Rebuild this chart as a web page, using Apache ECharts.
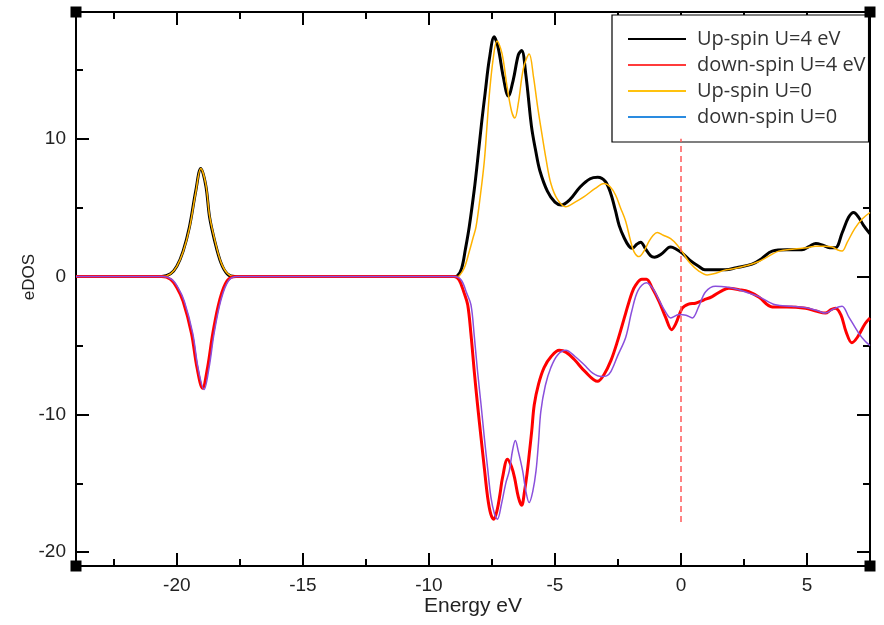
<!DOCTYPE html>
<html>
<head>
<meta charset="utf-8">
<script src="https://cdn.jsdelivr.net/npm/echarts@6/dist/echarts.min.js"></script>
<style>
html,body{margin:0;padding:0;background:#fff;}
#chart{width:884px;height:625px;}
</style>
</head>
<body>
<div id="chart"></div>
<script>
// ---- data (energy eV, eDOS) ----
const seriesNames = ['Up-spin U=4 eV', 'down-spin U=4 eV', 'Up-spin U=0', 'down-spin U=0'];

const upSpinU4 = [[-24,0],[-20.6,0],[-20.25,0.2],[-20.0,0.75],[-19.75,1.85],[-19.5,3.6],[-19.25,6.2],[-19.05,7.85],[-18.85,6.6],[-18.7,4.3],[-18.5,2.6],[-18.25,1.0],[-18.0,0.2],[-17.7,0],[-9.0,0],[-8.87,0.05],[-8.7,0.6],[-8.55,2.0],[-8.4,3.6],[-8.2,6.3],[-8.07,8.4],[-7.9,11.3],[-7.77,13.3],[-7.6,15.8],[-7.41,17.4],[-7.25,16.6],[-7.05,14.5],[-6.85,13.1],[-6.65,14.3],[-6.45,16.1],[-6.32,16.4],[-6.15,14.6],[-5.93,10.9],[-5.75,9.0],[-5.6,7.7],[-5.3,6.2],[-5.0,5.4],[-4.75,5.2],[-4.4,5.6],[-4.0,6.5],[-3.6,7.1],[-3.3,7.2],[-3.0,6.9],[-2.78,6.0],[-2.6,4.8],[-2.45,3.7],[-2.25,2.8],[-2.06,2.2],[-1.93,2.05],[-1.75,2.35],[-1.6,2.5],[-1.4,2.0],[-1.2,1.5],[-1.05,1.4],[-0.8,1.6],[-0.5,2.1],[-0.4,2.15],[-0.2,2.0],[0.05,1.7],[0.35,1.2],[0.7,0.75],[0.95,0.5],[1.3,0.5],[1.77,0.5],[2.2,0.65],[2.82,0.9],[3.2,1.3],[3.62,1.85],[4.2,1.95],[4.8,1.95],[5.1,2.2],[5.35,2.4],[5.6,2.3],[5.9,2.1],[6.13,2.1],[6.4,3.2],[6.65,4.3],[6.85,4.65],[7.05,4.3],[7.25,3.7],[7.5,3.1]];

const upSpinU0 = [[-24,0],[-20.6,0],[-20.25,0.2],[-20.0,0.75],[-19.75,1.8],[-19.5,3.5],[-19.25,6.1],[-19.05,7.85],[-18.85,6.7],[-18.7,4.4],[-18.5,2.7],[-18.25,1.05],[-18.0,0.25],[-17.7,0],[-8.9,0],[-8.8,0.05],[-8.6,0.6],[-8.4,1.8],[-8.25,2.8],[-8.13,3.6],[-7.95,6.0],[-7.8,8.4],[-7.7,10.8],[-7.6,13.25],[-7.45,15.8],[-7.3,17.1],[-7.1,16.2],[-6.9,13.8],[-6.72,12.0],[-6.59,11.5],[-6.45,12.6],[-6.25,15.1],[-6.02,16.15],[-5.85,14.5],[-5.7,12.5],[-5.56,10.85],[-5.35,8.5],[-5.16,6.75],[-4.9,5.6],[-4.57,5.06],[-4.2,5.4],[-3.84,5.8],[-3.4,6.4],[-3.05,6.75],[-2.8,6.5],[-2.59,5.9],[-2.4,5.0],[-2.19,4.0],[-2.0,2.6],[-1.86,1.8],[-1.66,1.45],[-1.45,1.9],[-1.27,2.55],[-1.1,3.0],[-0.94,3.2],[-0.7,3.0],[-0.41,2.75],[-0.15,2.3],[0.05,1.8],[0.35,1.0],[0.71,0.4],[1.04,0.12],[1.3,0.2],[1.7,0.45],[2.17,0.6],[2.6,0.8],[3.09,1.1],[3.5,1.5],[3.88,1.85],[4.5,2.0],[5.0,2.1],[5.33,2.2],[5.7,2.2],[6.0,2.15],[6.2,1.95],[6.39,1.85],[6.6,2.5],[6.9,3.5],[7.2,4.2],[7.5,4.65]];

const downSpinU4 = [[-24,0],[-20.6,0],[-20.25,-0.2],[-20.0,-0.8],[-19.75,-1.8],[-19.42,-4.1],[-19.2,-6.6],[-18.98,-8.1],[-18.78,-6.6],[-18.57,-4.1],[-18.3,-1.7],[-18.0,-0.3],[-17.65,0],[-9.0,0],[-8.8,-0.25],[-8.6,-1.2],[-8.46,-2.05],[-8.33,-4.2],[-8.2,-6.87],[-8.07,-9.3],[-7.93,-11.7],[-7.8,-13.9],[-7.67,-16.0],[-7.55,-17.2],[-7.43,-17.6],[-7.3,-17.0],[-7.18,-15.8],[-7.08,-14.6],[-6.88,-13.25],[-6.72,-13.8],[-6.6,-14.6],[-6.45,-16.0],[-6.32,-16.6],[-6.2,-15.5],[-6.1,-14.2],[-6.02,-12.9],[-5.92,-11.2],[-5.82,-9.3],[-5.65,-7.8],[-5.43,-6.6],[-5.15,-5.8],[-4.83,-5.35],[-4.55,-5.5],[-4.24,-6.0],[-3.8,-6.9],[-3.31,-7.6],[-3.05,-7.1],[-2.78,-6.1],[-2.52,-4.7],[-2.2,-2.7],[-1.95,-1.2],[-1.79,-0.6],[-1.55,-0.2],[-1.37,-0.2],[-1.15,-0.8],[-0.87,-1.8],[-0.6,-3.0],[-0.37,-3.85],[-0.2,-3.4],[0.05,-2.3],[0.3,-2.0],[0.58,-1.93],[0.9,-1.7],[1.24,-1.45],[1.6,-1.05],[1.9,-0.85],[2.3,-0.95],[2.69,-1.1],[3.1,-1.5],[3.62,-2.2],[4.2,-2.2],[4.94,-2.3],[5.35,-2.5],[5.73,-2.65],[5.95,-2.4],[6.13,-2.3],[6.35,-2.8],[6.55,-4.0],[6.78,-4.8],[7.0,-4.4],[7.31,-3.4],[7.5,-3.0]];

const downSpinU0 = [[-24,0],[-20.55,0],[-20.2,-0.2],[-19.95,-0.8],[-19.7,-1.8],[-19.37,-4.1],[-19.15,-6.7],[-18.92,-8.2],[-18.72,-6.6],[-18.52,-4.1],[-18.25,-1.7],[-17.95,-0.3],[-17.6,0],[-9.0,0],[-8.72,-0.25],[-8.5,-1.2],[-8.33,-2.05],[-8.2,-4.3],[-8.07,-6.87],[-7.93,-9.3],[-7.8,-11.7],[-7.67,-13.9],[-7.54,-16.0],[-7.4,-17.2],[-7.28,-17.6],[-7.12,-16.5],[-6.95,-15.0],[-6.81,-14.1],[-6.68,-12.6],[-6.57,-11.9],[-6.45,-12.7],[-6.28,-14.1],[-6.15,-15.6],[-6.02,-16.4],[-5.88,-15.6],[-5.75,-14.1],[-5.65,-12.0],[-5.56,-9.8],[-5.38,-7.9],[-5.16,-6.6],[-4.9,-5.7],[-4.57,-5.35],[-4.2,-5.8],[-3.84,-6.4],[-3.5,-7.0],[-3.15,-7.25],[-2.95,-7.2],[-2.78,-6.9],[-2.5,-5.7],[-2.19,-4.4],[-1.95,-2.5],[-1.7,-1.0],[-1.37,-0.45],[-1.1,-0.9],[-0.87,-1.7],[-0.6,-2.6],[-0.41,-3.0],[-0.08,-2.75],[0.2,-2.8],[0.45,-3.0],[0.7,-2.2],[0.98,-1.1],[1.37,-0.7],[1.8,-0.75],[2.3,-0.95],[2.7,-1.2],[3.09,-1.45],[3.75,-2.05],[4.4,-2.15],[5.07,-2.3],[5.45,-2.5],[5.73,-2.65],[6.05,-2.35],[6.39,-2.15],[6.65,-2.9],[7.05,-4.1],[7.31,-4.7],[7.5,-5.0]];

const fermiLine = [[0,-17.8],[0,10]];

const xRange = [-24, 7.5];
const yRange = [-21, 19.2];
const xMajorTicks = [-20,-15,-10,-5,0,5];
const xMinorTicks = [-22.5,-17.5,-12.5,-7.5,-2.5,2.5,7.5];
const yMajorTicks = [-20,-10,0,10];
const yMinorTicks = [-15,-5,5,15];

// ---- styling ----
const GRID = {left:76, right:14, top:12, bottom:59};
const W = 884, H = 625;
const SANS = 'Liberation Sans, Arial, sans-serif';
const tickFont = {fontFamily:SANS, fontSize:19, color:'#222'};

function xAxisDef(pos, ticks, len, showLine, showLabel, name){
  return {
    type:'value', position:pos, min:xRange[0], max:xRange[1],
    name: name || '', nameLocation:'middle', nameGap:30, nameMoveOverlap:false,
    nameTextStyle:{fontFamily:SANS, fontSize:21, color:'#222'},
    axisLine:{show:showLine, onZero:false, lineStyle:{color:'#000', width:2}},
    axisTick:{show:true, inside:true, length:len, customValues:ticks, lineStyle:{color:'#000', width:2}},
    axisLabel:{show:showLabel, customValues:ticks, margin:10, ...tickFont},
    splitLine:{show:false}
  };
}
function yAxisDef(pos, ticks, len, showLine, showLabel, name){
  return {
    type:'value', position:pos, min:yRange[0], max:yRange[1],
    name: name || '', nameLocation:'middle', nameGap:38, nameMoveOverlap:false,
    nameTextStyle:{fontFamily:SANS, fontSize:17, color:'#222', padding:[0,0,0,24]},
    axisLine:{show:showLine, onZero:false, lineStyle:{color:'#000', width:2}},
    axisTick:{show:true, inside:true, length:len, customValues:ticks, lineStyle:{color:'#000', width:2}},
    axisLabel:{show:showLabel, customValues:ticks, margin:10, ...tickFont},
    splitLine:{show:false}
  };
}

const chart = echarts.init(document.getElementById('chart'), null, {renderer:'canvas'});

const x0 = GRID.left, x1 = W - GRID.right, y0 = GRID.top, y1 = H - GRID.bottom;
const sq = 11;
const corners = [[x0,y0],[x1,y0],[x0,y1],[x1,y1]].map(c => ({
  type:'rect', z:100, shape:{x:c[0]-sq/2, y:c[1]-sq/2, width:sq, height:sq},
  style:{fill:'#000'}
}));

const lineIcon = 'path://M0,0H58V2H0Z';

chart.setOption({
  animation:false,
  backgroundColor:'#fff',
  grid:{left:GRID.left, right:GRID.right, top:GRID.top, bottom:GRID.bottom},
  xAxis:[
    xAxisDef('bottom', xMajorTicks, 13, true, true, 'Energy eV'),
    xAxisDef('bottom', xMinorTicks, 7, false, false),
    xAxisDef('top', xMajorTicks, 13, true, false),
    xAxisDef('top', xMinorTicks, 7, false, false)
  ],
  yAxis:[
    yAxisDef('left', yMajorTicks, 13, true, true, 'eDOS'),
    yAxisDef('left', yMinorTicks, 7, false, false),
    yAxisDef('right', yMajorTicks, 13, true, false),
    yAxisDef('right', yMinorTicks, 7, false, false)
  ],
  legend:{
    orient:'vertical', left:612, top:15,
    backgroundColor:'#fff', borderColor:'#000', borderWidth:1.2,
    padding:[14,3,15,16], itemWidth:58, itemHeight:20, itemGap:6,
    textStyle:{fontFamily:'Open Sans, Noto Sans, sans-serif', fontSize:20, color:'#333', lineHeight:20, padding:[0,0,0,6]},
    data:[
      {name:seriesNames[0], icon:lineIcon, itemStyle:{color:'#000'}},
      {name:seriesNames[1], icon:lineIcon, itemStyle:{color:'#ff3b3b'}},
      {name:seriesNames[2], icon:lineIcon, itemStyle:{color:'#ffc20e'}},
      {name:seriesNames[3], icon:lineIcon, itemStyle:{color:'#2a8be0'}}
    ]
  },
  graphic: corners,
  series:[
    {name:seriesNames[0], type:'line', data:upSpinU4, showSymbol:false, symbol:'none', smooth:0.35,
     lineStyle:{color:'#000', width:3}, itemStyle:{color:'#000'}, z:2,
     markLine:{silent:true, symbol:['none','none'], label:{show:false},
       lineStyle:{color:'#ff5a5a', type:[6,4], width:1.5},
       data:[[{coord:fermiLine[0]},{coord:fermiLine[1]}]]}},
    {name:seriesNames[2], type:'line', data:upSpinU0, showSymbol:false, symbol:'none', smooth:0.35,
     lineStyle:{color:'#ffb300', width:1.5}, itemStyle:{color:'#ffb300'}, z:3},
    {name:seriesNames[1], type:'line', data:downSpinU4, showSymbol:false, symbol:'none', smooth:0.35,
     lineStyle:{color:'#ff0000', width:3}, itemStyle:{color:'#ff0000'}, z:4},
    {name:seriesNames[3], type:'line', data:downSpinU0, showSymbol:false, symbol:'none', smooth:0.35,
     lineStyle:{color:'#8a4fdc', width:1.5}, itemStyle:{color:'#8a4fdc'}, z:5}
  ]
});
</script>
</body>
</html>
